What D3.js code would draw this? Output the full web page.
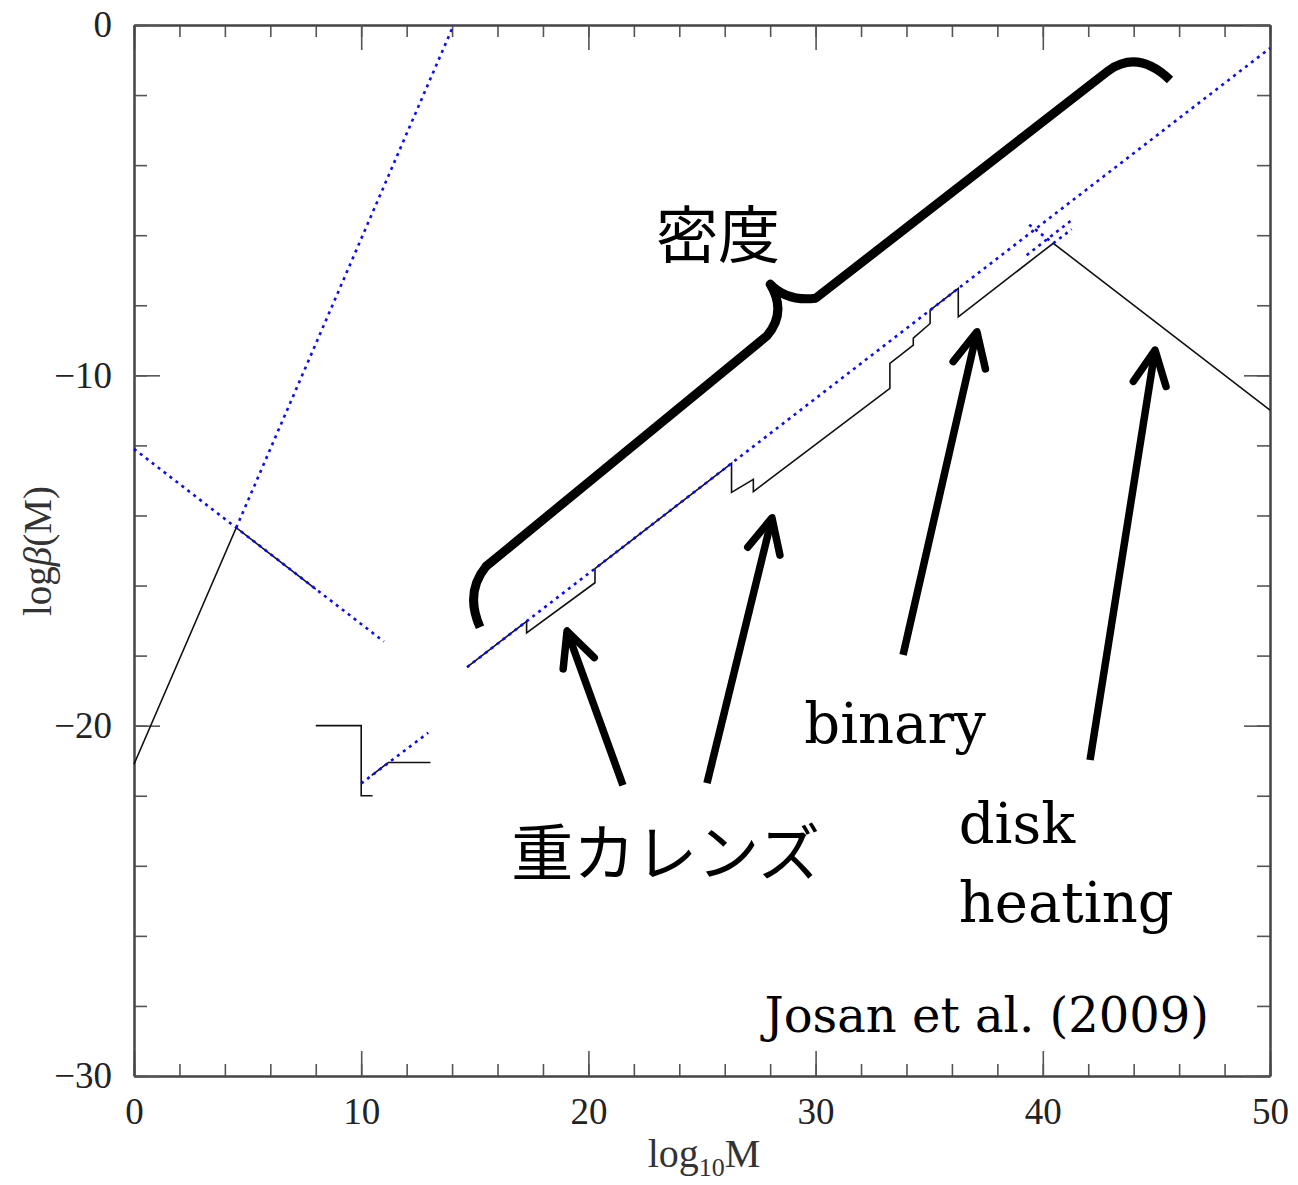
<!DOCTYPE html>
<html>
<head>
<meta charset="utf-8">
<script src="https://cdn.jsdelivr.net/npm/d3@7"></script>
<style>
  body { margin: 0; background: #fff; }
  svg text { font-family: "DejaVu Serif", serif; }
  .cjk { font-family: "Noto Sans CJK JP", sans-serif; }
  .tk { font-family: "Liberation Serif", serif; }
</style>
</head>
<body>
<svg id="chart" width="1298" height="1185"></svg>
<script>
// tick values
const xMajor = [0, 10, 20, 30, 40, 50]
const yMajor = [0, -10, -20, -30]

// solid black curves (log10 M, log beta)
const blackLeft = [[0, -21.1], [4.5, -14.35], [8.0, -16.1]]
const blackStep = [[8, -20], [10, -20], [10, -22], [10.5, -22]]
const blackShort = [[10.46, -21.42], [11.2, -21.05], [13.05, -21.05]]
const blackMain = [[14.66, -18.33], [17.28, -17.02], [17.28, -17.35], [20.29, -15.92],
  [20.29, -15.52], [26.3, -12.51], [26.3, -13.34], [27.26, -12.97], [27.26, -13.32],
  [33.27, -10.37], [33.27, -9.66], [34.3, -9.14], [34.3, -8.94], [35.04, -8.52],
  [35.04, -8.14], [36.28, -7.52], [36.28, -8.33], [40.46, -6.23], [50, -10.99]]

// dotted blue limits
const blueA = [[0, -12.1], [11.0, -17.6]]
const blueB = [[4.5, -14.35], [14.07, 0]]
const blueC = [[10, -21.65], [12.95, -20.2]]
const blueMain = [[14.66, -18.33], [50, -0.66]]
const blueD = [[39.29, -6.57], [41.27, -5.57]]
const blueE = [[40.46, -6.23], [41.27, -5.83]]
const blueF = [[39.4, -5.7], [40.46, -6.23]]

// annotation arrows: [tail, tip]
const arrows = [
  [[21.52, -21.7], [19.06, -17.3]],
  [[25.22, -21.64], [28.08, -14.07]],
  [[33.85, -17.98], [37.1, -8.76]],
  [[42.08, -20.98], [44.94, -9.28]]
]

// brace over the density limit
const braceLow = [[15.23, -17.19], [14.55, -16.2], [15.5, -15.45]]
const braceMid = [[27.85, -8.88], [28.75, -8.2], [28.0, -7.4], [28.75, -7.9], [30.0, -7.8]]
const braceHigh = [[42.9, -1.3], [44.2, -0.7], [45.6, -1.57]]

const labels = [
  { text: '密度', x: 25.7, y: -6.65, size: 62, cjk: true, anchor: 'middle' },
  { text: '重カレンズ', x: 23.4, y: -24.3, size: 62, cjk: true, anchor: 'middle' },
  { text: 'binary', x: 33.5, y: -20.5, size: 56, anchor: 'middle' },
  { text: 'disk', x: 36.3, y: -23.35, size: 56, anchor: 'start' },
  { text: 'heating', x: 36.3, y: -25.6, size: 56, anchor: 'start' },
  { text: 'Josan et al. (2009)', x: 27.75, y: -28.75, size: 48, anchor: 'start' }
]

const svg = d3.select('#chart')
const frame = { left: 134, right: 1270, top: 25, bottom: 1076 }

const x = d3.scaleLinear().domain([0, 50]).range([frame.left, frame.right])
const y = d3.scaleLinear().domain([-30, 0]).range([frame.bottom, frame.top])

const line = d3.line().x(d => x(d[0])).y(d => y(d[1]))

// axes: major ticks with labels, minor ticks every 2
const axisColor = '#444'
function drawAxis (axis, transform, values, size, labelled) {
  const g = svg.append('g').attr('transform', transform)
    .call(axis.tickValues(values).tickSizeInner(size).tickSizeOuter(0)
      .tickFormat(labelled ? d3.format('d') : ''))
  g.select('.domain').attr('stroke', axisColor).attr('stroke-width', 2)
  g.selectAll('.tick line').attr('stroke', '#555').attr('stroke-width', 1.6)
  g.selectAll('.tick text').attr('class', 'tk').attr('fill', '#222').style('font-size', '37px')
  return g
}
const xMinor = d3.range(0, 51, 2)
const yMinor = d3.range(-30, 1, 2)
drawAxis(d3.axisBottom(x), `translate(0,${frame.bottom})`, xMinor, -12, false)
drawAxis(d3.axisBottom(x), `translate(0,${frame.bottom})`, xMajor, -25, true)
  .selectAll('.tick text').attr('y', 22).attr('dy', '0.71em')
drawAxis(d3.axisTop(x), `translate(0,${frame.top})`, xMinor, -12, false)
drawAxis(d3.axisTop(x), `translate(0,${frame.top})`, xMajor, -25, false)
drawAxis(d3.axisLeft(y), `translate(${frame.left},0)`, yMinor, -13, false)
drawAxis(d3.axisLeft(y), `translate(${frame.left},0)`, yMajor, -26, true)
  .selectAll('.tick text').attr('x', -22)
drawAxis(d3.axisRight(y), `translate(${frame.right},0)`, yMinor, -13, false)
drawAxis(d3.axisRight(y), `translate(${frame.right},0)`, yMajor, -26, false)

// axis titles
const xt = svg.append('text').attr('x', 704).attr('y', 1167).attr('class', 'tk')
  .attr('text-anchor', 'middle').attr('fill', '#333').style('font-size', '40px')
xt.append('tspan').text('log')
xt.append('tspan').text('10').style('font-size', '26px').attr('dy', 9)
xt.append('tspan').text('M').attr('dy', -9)

const yt = svg.append('text').attr('transform', 'translate(51,551) rotate(-90)')
  .attr('class', 'tk')
  .attr('text-anchor', 'middle').attr('fill', '#333').style('font-size', '39px')
yt.append('tspan').text('log')
yt.append('tspan').text('β').style('font-style', 'italic')
yt.append('tspan').text('(M)')

// data curves
const plot = svg.append('g')
;[blackLeft, blackStep, blackShort, blackMain].forEach(d => {
  plot.append('path').attr('d', line(d))
    .attr('fill', 'none').attr('stroke', '#111').attr('stroke-width', 1.6)
})
;[blueA, blueB, blueC, blueMain, blueD, blueE, blueF].forEach(d => {
  plot.append('path').attr('d', line(d))
    .attr('fill', 'none').attr('stroke', '#0a0aff').attr('stroke-width', 2.6)
    .attr('stroke-dasharray', '3,4.5')
})

// brace
const brace = d3.path()
const px = d => [x(d[0]), y(d[1])]
let p = px(braceLow[0])
brace.moveTo(p[0], p[1])
let c = px(braceLow[1]); p = px(braceLow[2])
brace.quadraticCurveTo(c[0], c[1], p[0], p[1])
p = px(braceMid[0]); brace.lineTo(p[0], p[1])
c = px(braceMid[1]); p = px(braceMid[2])
brace.quadraticCurveTo(c[0], c[1], p[0], p[1])
c = px(braceMid[3]); p = px(braceMid[4])
brace.quadraticCurveTo(c[0], c[1], p[0], p[1])
p = px(braceHigh[0]); brace.lineTo(p[0], p[1])
c = px(braceHigh[1]); p = px(braceHigh[2])
brace.quadraticCurveTo(c[0], c[1], p[0], p[1])
svg.append('path').attr('d', brace.toString())
  .attr('fill', 'none').attr('stroke', '#000').attr('stroke-width', 9)
  .attr('stroke-linejoin', 'round')

// arrows
arrows.forEach(([tail, tip]) => {
  const [x0, y0] = px(tail)
  const [x1, y1] = px(tip)
  const ang = Math.atan2(y1 - y0, x1 - x0)
  const len = 38
  const spread = 0.45
  const a1 = [x1 - len * Math.cos(ang - spread), y1 - len * Math.sin(ang - spread)]
  const a2 = [x1 - len * Math.cos(ang + spread), y1 - len * Math.sin(ang + spread)]
  svg.append('line').attr('x1', x0).attr('y1', y0).attr('x2', x1).attr('y2', y1)
    .attr('stroke', '#000').attr('stroke-width', 7.5)
  svg.append('path').attr('d', d3.line()([a1, [x1, y1], a2]))
    .attr('fill', 'none').attr('stroke', '#000').attr('stroke-width', 7.5)
    .attr('stroke-linecap', 'round').attr('stroke-linejoin', 'round')
})

// text annotations
labels.forEach(l => {
  svg.append('text').attr('x', x(l.x)).attr('y', y(l.y))
    .attr('class', l.cjk ? 'cjk' : null)
    .attr('text-anchor', l.anchor).attr('fill', '#000')
    .style('font-size', l.size + 'px')
    .text(l.text)
})
</script>
</body>
</html>
